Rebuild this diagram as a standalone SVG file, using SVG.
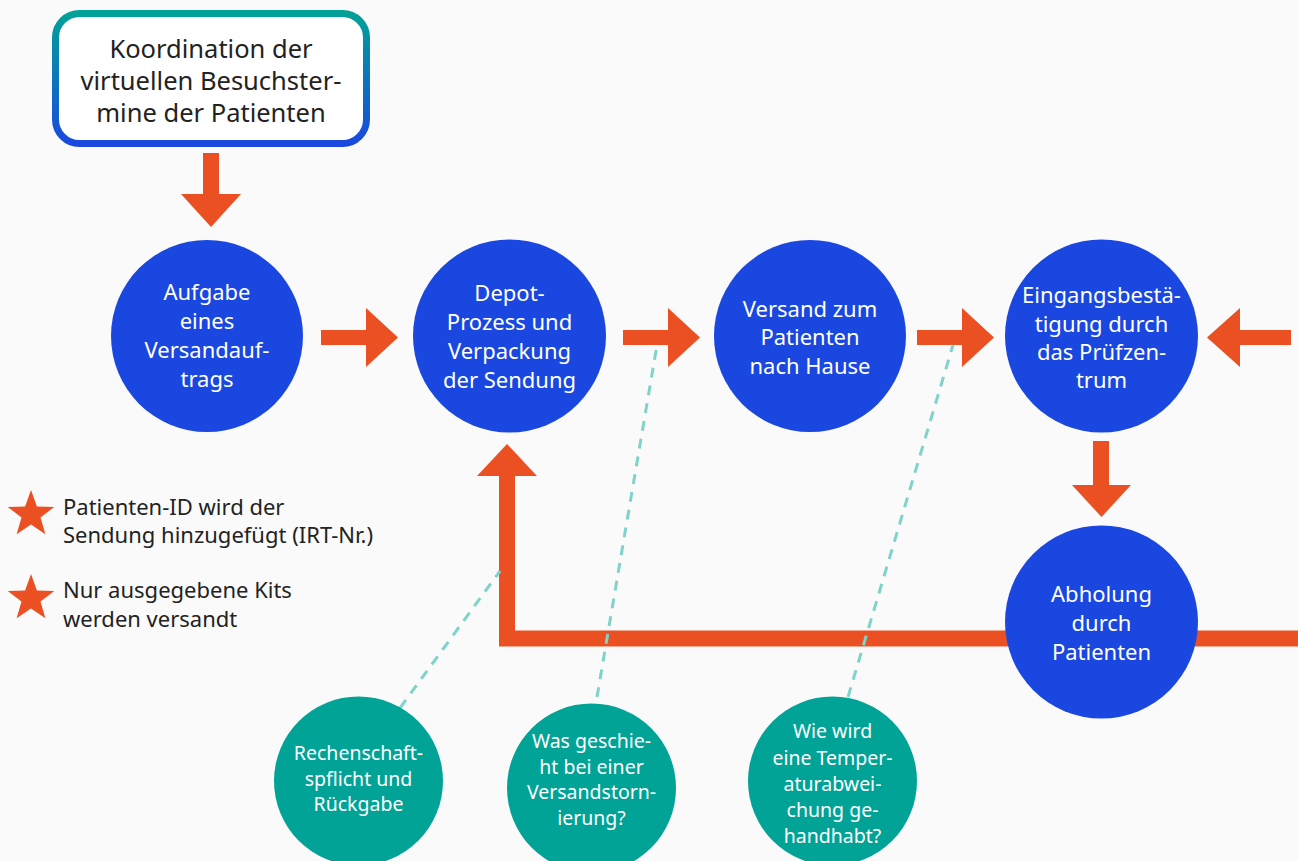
<svg xmlns="http://www.w3.org/2000/svg" width="1298" height="861" viewBox="0 0 1298 861">
<defs>
<linearGradient id="boxGrad" gradientUnits="userSpaceOnUse" x1="0" y1="10" x2="0" y2="147">
<stop offset="0" stop-color="#00a396"/>
<stop offset="1" stop-color="#1a47e0"/>
</linearGradient>
<polygon id="star" points="0,-24.5 5.9,-8.1 23.3,-7.6 9.5,3.1 14.4,19.8 0,9.9 -14.4,19.8 -9.5,3.1 -23.3,-7.6 -5.9,-8.1"/>
</defs>
<style>
.bg{fill:#fafafa}
.blue{fill:#1a47e0}
.teal{fill:#00a396}
.arrow{fill:#eb5022}
.thick{fill:none;stroke:#eb5022;stroke-width:16;stroke-linejoin:miter}
.dash{fill:none;stroke:#7fd3cb;stroke-width:3;stroke-dasharray:10 8}
.wt{font-family:"Noto Sans","Open Sans",sans-serif;font-size:22px;fill:#ffffff;text-anchor:middle}
.wts{font-family:"Noto Sans","Open Sans",sans-serif;font-size:19.5px;fill:#ffffff;text-anchor:middle}
.dt{font-family:"Noto Sans","Open Sans",sans-serif;font-size:25.5px;fill:#222222;text-anchor:middle}
.lt{font-family:"Noto Sans","Open Sans",sans-serif;font-size:22px;fill:#222222}
.star{fill:#eb5022}
</style>
<rect class="bg" x="0" y="0" width="1298" height="861"/>

<g id="connectors">
<path class="thick" d="M507,470 L507,638.5 L1298,638.5"/>
<polygon class="arrow" points="477,476 507,444 537,476"/>
<polygon class="arrow" points="203,153 219,153 219,194 241,194 211,227 181,194 203,194"/>
<polygon class="arrow" points="321,330 366,330 366,308 398,337.5 366,367 366,345 321,345"/>
<polygon class="arrow" points="623,330 668,330 668,308 700,337.5 668,367 668,345 623,345"/>
<polygon class="arrow" points="917,330 962,330 962,308 994,337.5 962,367 962,345 917,345"/>
<polygon class="arrow" points="1291,330 1240,330 1240,308 1207,337.5 1240,367 1240,345 1291,345"/>
<polygon class="arrow" points="1093,441 1109,441 1109,485 1131,485 1101.5,517 1072,485 1093,485"/>
<line class="dash" x1="400" y1="708" x2="500" y2="571"/>
<line class="dash" x1="597" y1="697" x2="657" y2="345"/>
<line class="dash" x1="848" y1="697" x2="953" y2="345"/>
</g>

<g id="node-koordination">
<rect x="55.5" y="13.5" width="311" height="130" rx="24" ry="24" fill="#ffffff" stroke="url(#boxGrad)" stroke-width="7"/>
<text class="dt" x="211" y="58">Koordination der</text>
<text class="dt" x="211" y="90">virtuellen Besuchster-</text>
<text class="dt" x="211" y="122">mine der Patienten</text>
</g>

<g id="node-aufgabe">
<circle class="blue" cx="207" cy="336" r="96"/>
<text class="wt" x="207" y="300">Aufgabe</text>
<text class="wt" x="207" y="329">eines</text>
<text class="wt" x="207" y="358">Versandauf-</text>
<text class="wt" x="207" y="387">trags</text>
</g>

<g id="node-depot">
<circle class="blue" cx="509.5" cy="336" r="96.5"/>
<text class="wt" x="509.5" y="301">Depot-</text>
<text class="wt" x="509.5" y="330">Prozess und</text>
<text class="wt" x="509.5" y="359">Verpackung</text>
<text class="wt" x="509.5" y="388">der Sendung</text>
</g>

<g id="node-versand">
<circle class="blue" cx="810" cy="336" r="96"/>
<text class="wt" x="810" y="317">Versand zum</text>
<text class="wt" x="810" y="345">Patienten</text>
<text class="wt" x="810" y="374">nach Hause</text>
</g>

<g id="node-eingang">
<circle class="blue" cx="1101.5" cy="336" r="96.5"/>
<text class="wt" x="1101.5" y="303">Eingangsbestä-</text>
<text class="wt" x="1101.5" y="332">tigung durch</text>
<text class="wt" x="1101.5" y="360">das Prüfzen-</text>
<text class="wt" x="1101.5" y="388">trum</text>
</g>

<g id="node-abholung">
<circle class="blue" cx="1101.5" cy="622" r="96.5"/>
<text class="wt" x="1101.5" y="602">Abholung</text>
<text class="wt" x="1101.5" y="631">durch</text>
<text class="wt" x="1101.5" y="660">Patienten</text>
</g>

<g id="node-rechenschaft">
<circle class="teal" cx="358.5" cy="781" r="84.5"/>
<text class="wts" x="358.5" y="760">Rechenschaft-</text>
<text class="wts" x="358.5" y="786">spflicht und</text>
<text class="wts" x="358.5" y="811">Rückgabe</text>
</g>

<g id="node-storno">
<circle class="teal" cx="591.5" cy="788" r="84.5"/>
<text class="wts" x="591.5" y="748">Was geschie-</text>
<text class="wts" x="591.5" y="774">ht bei einer</text>
<text class="wts" x="591.5" y="799">Versandstorn-</text>
<text class="wts" x="591.5" y="825">ierung?</text>
</g>

<g id="node-temperatur">
<circle class="teal" cx="832.5" cy="781" r="84.5"/>
<text class="wts" x="832.5" y="738">Wie wird</text>
<text class="wts" x="832.5" y="765">eine Temper-</text>
<text class="wts" x="832.5" y="791">aturabwei-</text>
<text class="wts" x="832.5" y="817">chung ge-</text>
<text class="wts" x="832.5" y="843">handhabt?</text>
</g>

<g id="legend">
<use href="#star" class="star" x="31" y="514.5"/>
<text class="lt" x="63" y="515">Patienten-ID wird der</text>
<text class="lt" x="63" y="543">Sendung hinzugefügt (IRT-Nr.)</text>
<use href="#star" class="star" x="31" y="598.5"/>
<text class="lt" x="63" y="598">Nur ausgegebene Kits</text>
<text class="lt" x="63" y="627">werden versandt</text>
</g>
</svg>
